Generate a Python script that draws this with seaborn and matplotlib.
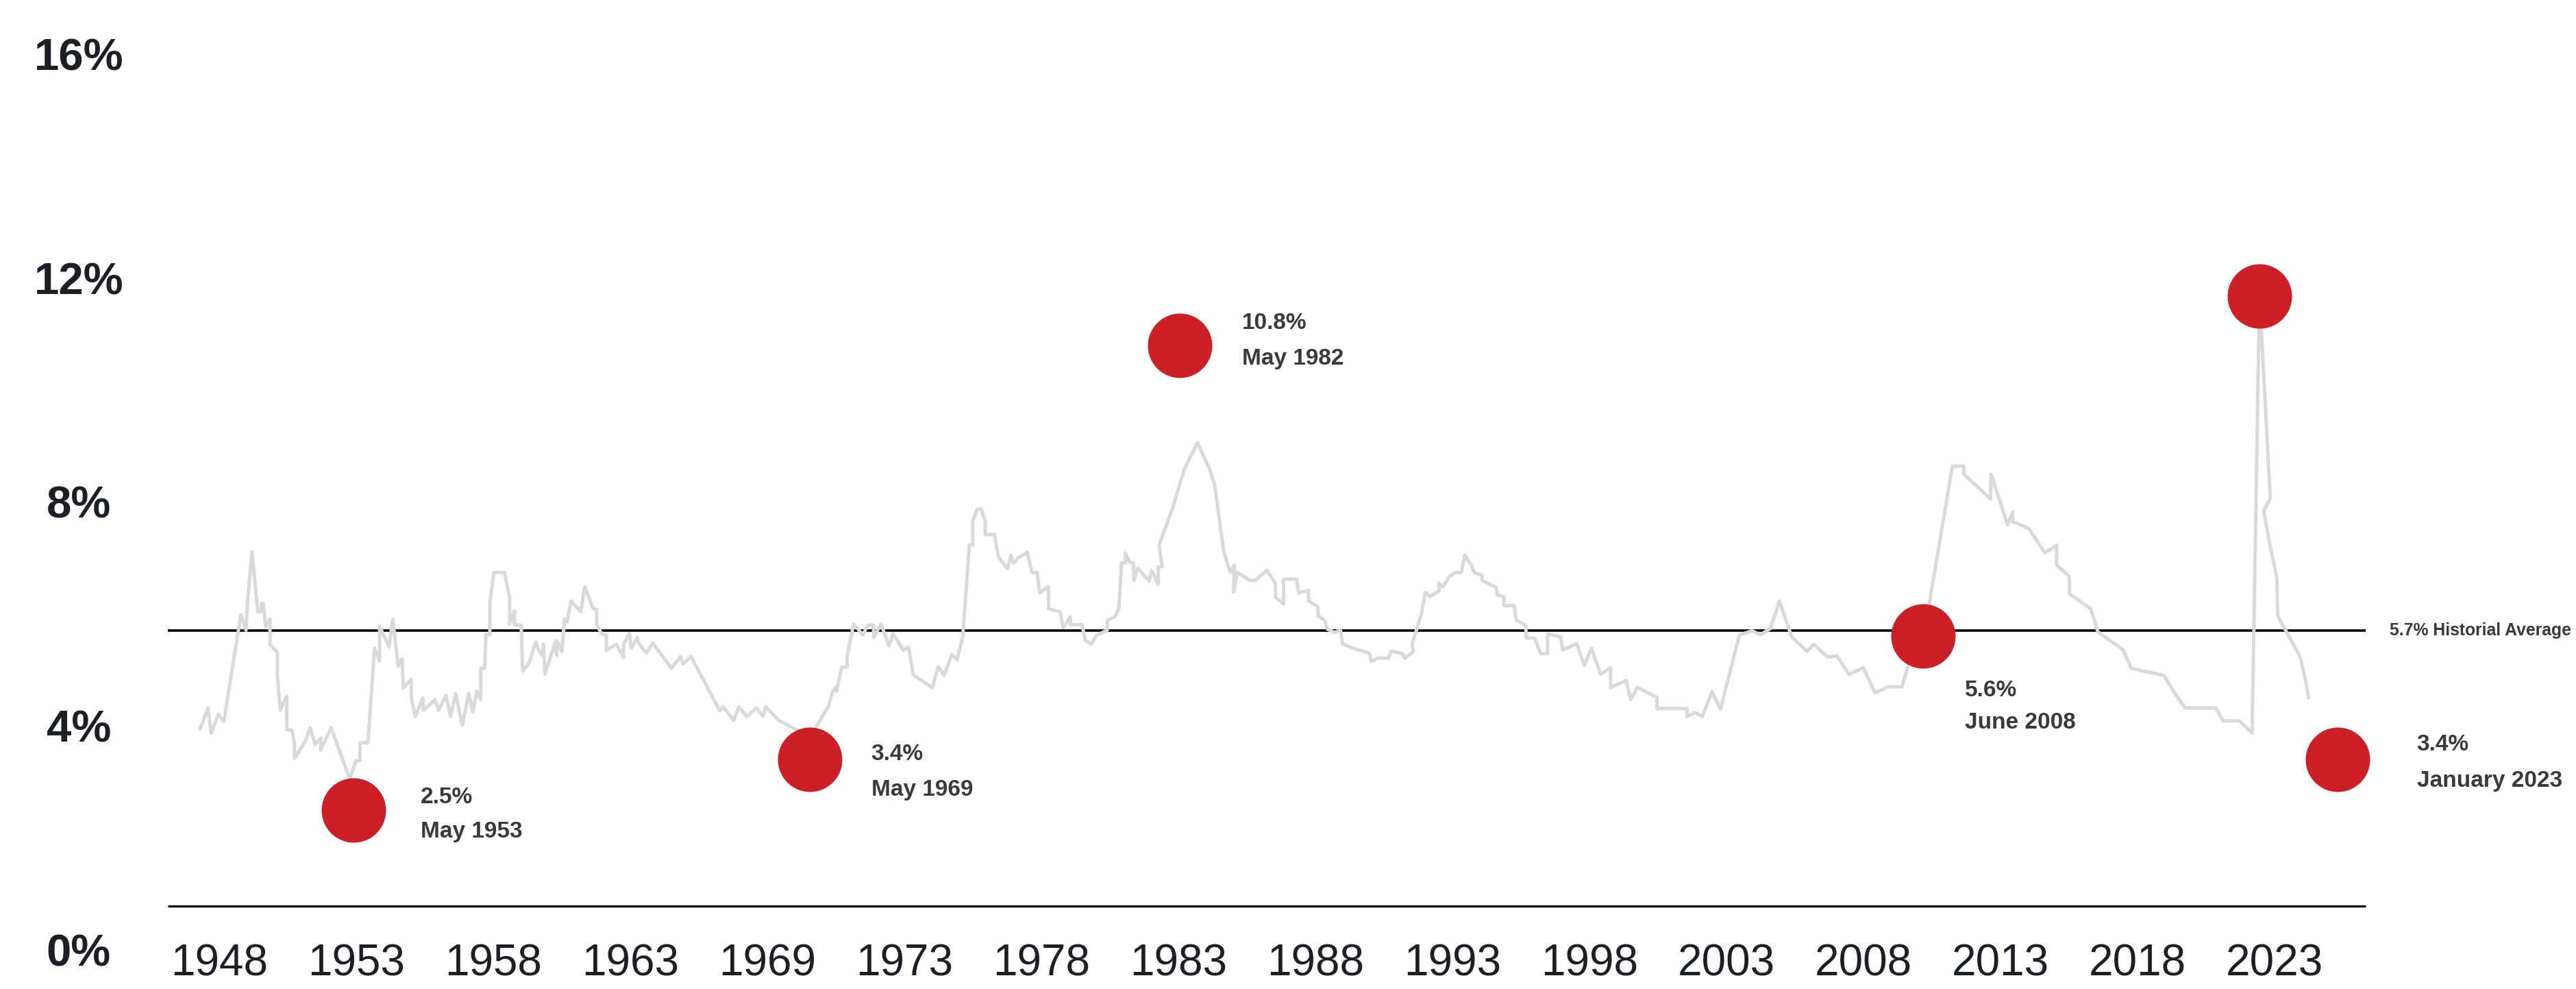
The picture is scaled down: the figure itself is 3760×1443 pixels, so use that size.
import matplotlib
matplotlib.use("Agg")
import matplotlib.pyplot as plt
import seaborn as sns

# Unemployment rate trace: decimal year and rate (%)
line_years = [
    1947.98, 1948.25, 1948.37, 1948.62, 1948.81, 1949.41, 1949.59, 1949.64, 1949.80, 1950.00,
    1950.10, 1950.14, 1950.19, 1950.28, 1950.43, 1950.43, 1950.69, 1950.69, 1950.79, 1951.02,
    1951.02, 1951.20, 1951.29, 1951.29, 1951.66, 1951.84, 1952.01, 1952.21, 1952.21, 1952.58,
    1953.23, 1953.45, 1953.59, 1953.59, 1953.87, 1954.10, 1954.28, 1954.28, 1954.61, 1954.74,
    1954.93, 1955.07, 1955.11, 1955.39, 1955.39, 1955.53, 1955.80, 1955.82, 1956.22, 1956.35,
    1956.61, 1956.77, 1956.95, 1957.18, 1957.41, 1957.55, 1957.69, 1957.83, 1957.83, 1957.97,
    1958.01, 1958.15, 1958.15, 1958.29, 1958.66, 1958.84, 1958.84, 1959.02, 1959.02, 1959.25,
    1959.30, 1959.53, 1959.76, 1959.85, 1959.99, 1960.03, 1960.08, 1960.27, 1960.45, 1960.50,
    1960.50, 1960.68, 1960.77, 1960.86, 1961.00, 1961.34, 1961.48, 1961.78, 1961.90, 1961.90,
    1962.10, 1962.24, 1962.24, 1962.59, 1962.84, 1962.84, 1963.05, 1963.12, 1963.32, 1963.37,
    1963.64, 1963.87, 1964.52, 1964.84, 1964.93, 1965.21, 1966.22, 1966.34, 1966.71, 1966.89,
    1967.17, 1967.51, 1967.74, 1967.83, 1968.29, 1969.40, 1970.04, 1970.18, 1970.32, 1970.32,
    1970.50, 1970.69, 1970.69, 1970.73, 1970.92, 1971.24, 1971.42, 1971.62, 1971.62, 1971.88,
    1972.16, 1972.30, 1972.66, 1972.85, 1973.01, 1973.68, 1973.89, 1974.09, 1974.37, 1974.55,
    1974.75, 1974.98, 1975.10, 1975.10, 1975.26, 1975.40, 1975.54, 1975.54, 1975.86, 1976.00,
    1976.32, 1976.44, 1976.53, 1976.69, 1977.01, 1977.19, 1977.36, 1977.45, 1977.76, 1977.76,
    1978.16, 1978.28, 1978.53, 1978.53, 1978.94, 1979.05, 1979.26, 1979.45, 1979.82, 1979.82,
    1980.09, 1980.23, 1980.32, 1980.46, 1980.46, 1980.60, 1980.74, 1980.76, 1980.89, 1981.29,
    1981.38, 1981.61, 1981.61, 1981.75, 1981.64, 1982.12, 1982.53, 1982.99, 1983.41, 1983.59,
    1983.91, 1984.14, 1984.28, 1984.26, 1984.39, 1984.83, 1985.02, 1985.43, 1985.73, 1985.73,
    1986.01, 1986.01, 1986.47, 1986.54, 1986.88, 1986.90, 1987.21, 1987.23, 1987.46, 1987.55,
    1987.80, 1988.01, 1988.08, 1988.44, 1989.02, 1989.09, 1989.32, 1989.69, 1989.80, 1990.19,
    1990.26, 1990.56, 1990.53, 1990.84, 1990.99, 1991.16, 1991.48, 1991.46, 1991.62, 1991.82,
    1992.03, 1992.25, 1992.37, 1992.61, 1992.71, 1992.98, 1992.98, 1993.48, 1993.51, 1993.74,
    1993.74, 1994.10, 1994.18, 1994.52, 1994.52, 1994.82, 1995.04, 1995.28, 1995.28, 1995.74,
    1995.81, 1996.30, 1996.57, 1996.82, 1997.14, 1997.49, 1997.49, 1998.04, 1998.20, 1998.43,
    1999.12, 1999.12, 2000.18, 2000.18, 2000.46, 2000.71, 2001.05, 2001.35, 2002.01, 2002.45,
    2002.75, 2003.10, 2003.42, 2003.85, 2004.39, 2004.62, 2004.94, 2005.10, 2005.44, 2005.86,
    2006.36, 2006.78, 2007.24, 2007.72, 2007.93, 2008.67, 2009.49, 2009.89, 2009.89, 2010.83,
    2010.85, 2011.43, 2011.61, 2011.61, 2012.16, 2012.74, 2013.15, 2013.15, 2013.60, 2013.60,
    2014.35, 2014.60, 2015.48, 2015.77, 2016.92, 2017.25, 2017.66, 2018.74, 2018.99, 2019.57,
    2020.01, 2020.27, 2020.65, 2020.42, 2020.63, 2020.88, 2020.91, 2021.71, 2021.94, 2021.99,
]
line_rates = [
    3.95, 4.32, 3.87, 4.21, 4.08, 5.99, 5.71, 6.21, 7.11, 6.04,
    6.04, 6.19, 6.19, 5.77, 5.91, 5.46, 5.31, 4.92, 4.28, 4.53,
    3.93, 3.93, 3.70, 3.42, 3.72, 3.97, 3.67, 3.78, 3.57, 3.97,
    3.05, 3.38, 3.38, 3.70, 3.70, 5.39, 5.16, 5.78, 5.41, 5.91,
    5.07, 5.20, 4.68, 4.83, 4.51, 4.17, 4.50, 4.28, 4.47, 4.28,
    4.55, 4.17, 4.58, 4.02, 4.58, 4.25, 4.62, 4.47, 5.03, 5.03,
    5.63, 5.63, 6.21, 6.74, 6.74, 6.30, 5.82, 6.06, 5.80, 5.80,
    4.98, 5.12, 5.50, 5.37, 5.26, 5.46, 4.93, 5.22, 5.50, 5.26,
    5.52, 5.33, 5.91, 5.86, 6.23, 6.04, 6.49, 6.09, 6.09, 5.80,
    5.63, 5.63, 5.35, 5.46, 5.22, 5.46, 5.65, 5.39, 5.58, 5.48,
    5.30, 5.48, 5.03, 5.24, 5.11, 5.24, 4.27, 4.34, 4.10, 4.34,
    4.17, 4.32, 4.17, 4.34, 4.10, 3.80, 4.36, 4.62, 4.70, 4.62,
    5.05, 5.05, 5.22, 5.35, 5.82, 5.63, 5.80, 5.80, 5.58, 5.82,
    5.43, 5.65, 5.35, 5.41, 4.92, 4.68, 5.06, 4.90, 5.28, 5.18,
    5.60, 7.23, 7.23, 7.66, 7.87, 7.87, 7.66, 7.42, 7.42, 7.02,
    6.81, 7.05, 6.91, 7.00, 7.10, 6.74, 6.74, 6.38, 6.49, 6.09,
    6.04, 5.76, 5.95, 5.81, 5.81, 5.53, 5.46, 5.62, 5.71, 5.88,
    5.95, 6.09, 6.91, 6.91, 7.09, 6.93, 6.91, 6.60, 6.82, 6.59,
    6.78, 6.53, 6.84, 6.85, 7.23, 7.89, 8.59, 9.06, 8.59, 8.31,
    7.12, 6.74, 6.87, 6.39, 6.74, 6.60, 6.60, 6.78, 6.54, 6.30,
    6.18, 6.62, 6.62, 6.38, 6.42, 6.23, 6.13, 5.97, 5.88, 5.73,
    5.67, 5.71, 5.47, 5.39, 5.30, 5.15, 5.21, 5.21, 5.34, 5.29,
    5.21, 5.32, 5.47, 5.98, 6.38, 6.31, 6.42, 6.55, 6.49, 6.66,
    6.74, 6.74, 7.05, 6.87, 6.74, 6.69, 6.60, 6.47, 6.34, 6.31,
    6.15, 6.15, 5.89, 5.79, 5.57, 5.57, 5.29, 5.29, 5.64, 5.59,
    5.36, 5.47, 5.08, 5.39, 4.92, 5.04, 4.69, 4.81, 4.47, 4.69,
    4.51, 4.31, 4.31, 4.17, 4.24, 4.17, 4.61, 4.30, 5.62, 5.70,
    5.63, 5.74, 6.23, 5.59, 5.33, 5.46, 5.31, 5.23, 5.25, 4.92,
    5.04, 4.59, 4.70, 4.70, 5.07, 6.16, 8.64, 8.64, 8.50, 8.05,
    8.50, 7.59, 7.83, 7.65, 7.53, 7.09, 7.23, 6.87, 6.67, 6.36,
    6.09, 5.68, 5.36, 5.03, 4.90, 4.62, 4.32, 4.32, 4.09, 4.09,
    3.87, 11.68, 8.06, 7.84, 7.25, 6.65, 5.97, 5.22, 4.69, 4.50,
]

# Highlighted observations (the 2020 peak carries no caption)
marker_dates = [1953.37, 1969.37, 1982.37, 2008.45, 2020.27, 2023.00]
marker_rates = [2.5, 3.4, 10.8, 5.6, 11.68, 3.4]
marker_periods = ["May 1953", "May 1969", "May 1982", "June 2008", "", "January 2023"]

historical_average = 5.7
average_caption = "Historial Average"

y_ticks = [0, 4, 8, 12, 16]
y_tick_labels = ["0%", "4%", "8%", "12%", "16%"]
x_tick_labels = ["1948", "1953", "1958", "1963", "1969", "1973", "1978", "1983",
                 "1988", "1993", "1998", "2003", "2008", "2013", "2018", "2023"]

# ---- layout (pixel geometry of the canvas) ----
W_PX, H_PX, DPI = 3760, 1443, 100
YEAR0_PX, PX_PER_YEAR = 293, 41.58      # x pixel of 1948.0, pixels per year
ZERO_PX, PX_PER_PCT = 1386, 81.7        # y pixel of 0 %, pixels per percentage point
PT = 72 / DPI                           # points per pixel


def year_at(px):
    return 1948 + (px - YEAR0_PX) / PX_PER_YEAR


def rate_at(py):
    return (ZERO_PX - py) / PX_PER_PCT


FRAME_LEFT, FRAME_RIGHT = year_at(245), year_at(3453)
BASELINE = rate_at(1322)

# per-caption offsets in pixels: (dx, dy first line, dy second line), image y downward
caption_offsets = {
    "May 1953": (98, -18, 32),
    "May 1969": (90, -8, 44),
    "May 1982": (91, -32, 20),
    "June 2008": (61, 79, 126),
    "January 2023": (116, -22, 31),
}

sns.set_theme(style="white")
plt.rcParams["font.family"] = ["Liberation Sans", "DejaVu Sans"]

fig = plt.figure(figsize=(W_PX / DPI, H_PX / DPI), dpi=DPI)
fig.patch.set_facecolor("white")
ax = fig.add_axes([0, 0, 1, 1])
ax.set_facecolor("white")
ax.set_xlim(year_at(0), year_at(W_PX))
ax.set_ylim(rate_at(H_PX), rate_at(0))

# frame line and the long-run average
ax.hlines([BASELINE], FRAME_LEFT, FRAME_RIGHT, color="#111111", linewidth=2.4, zorder=1)
ax.hlines([historical_average], FRAME_LEFT, FRAME_RIGHT, color="black", linewidth=2.6, zorder=1)

sns.lineplot(x=line_years, y=line_rates, sort=False, estimator=None, errorbar=None,
             color="#d9d9d9", linewidth=3.6, ax=ax, zorder=2)

sns.scatterplot(x=marker_dates, y=marker_rates, s=(94 * PT) ** 2, color="#cc2029",
                linewidth=0, ax=ax, zorder=4, legend=False)

caption_style = dict(textcoords="offset points", ha="left", va="center",
                     fontsize=24, fontweight="bold", color="#3a3a3a", zorder=5)
for d, v, period in zip(marker_dates, marker_rates, marker_periods):
    if not period:
        continue
    dx, dy1, dy2 = caption_offsets[period]
    ax.annotate(f"{v:.1f}%", xy=(d, v), xytext=(dx * PT, -dy1 * PT), **caption_style)
    ax.annotate(period, xy=(d, v), xytext=(dx * PT, -dy2 * PT), **caption_style)

ax.annotate(f"{historical_average:.1f}% {average_caption}", xy=(FRAME_RIGHT, historical_average),
            xytext=(35 * PT, 0), textcoords="offset points", ha="left", va="center",
            fontsize=17.8, fontweight="bold", color="#3a3a3a", annotation_clip=False)

# tick labels drawn inside the full-canvas axes
first_tick = year_at(320)
step = 200 / PX_PER_YEAR
ax.set_xticks([first_tick + i * step for i in range(len(x_tick_labels))], x_tick_labels)
ax.set_yticks(y_ticks, y_tick_labels)
ax.tick_params(axis="both", length=0)
ax.tick_params(axis="y", pad=-115 * PT)
ax.tick_params(axis="x", pad=-(H_PX - 1406) * PT)
for lbl in ax.get_yticklabels():
    lbl.set_horizontalalignment("center")
    lbl.set_fontsize(47)
    lbl.set_fontweight("bold")
    lbl.set_color("#1d1f26")
for lbl in ax.get_xticklabels():
    lbl.set_verticalalignment("center")
    lbl.set_fontsize(46)
    lbl.set_color("#1d1f26")

ax.set_xlabel("")
ax.set_ylabel("")
ax.grid(False)
for spine in ax.spines.values():
    spine.set_visible(False)

fig.savefig("out.png", dpi=DPI, facecolor="white")
